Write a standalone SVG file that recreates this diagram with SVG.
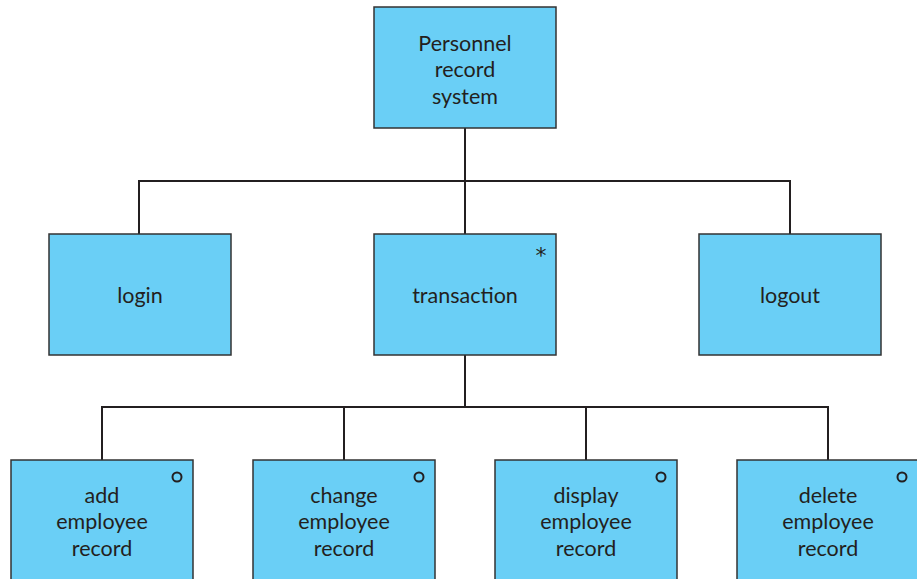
<svg xmlns="http://www.w3.org/2000/svg" width="917" height="579" viewBox="0 0 917 579">
<style>
.box{fill:#6acff6;stroke:#333;stroke-width:1.5}
.t{font-family:Lato,"Open Sans",sans-serif;font-size:21.5px;fill:#231f20;text-anchor:middle}
.c{fill:none;stroke:#231f20;stroke-width:2}
.m{fill:none;stroke:#231f20;stroke-width:2}
</style>
<rect width="917" height="579" fill="#fff"/>
<g id="connectors">
<path class="c" d="M465 128V181M139 234V181H790V234M465 181V234"/>
<path class="c" d="M465 355V407M102 460V407H828V460M344 407V460M586 407V460"/>
</g>
<g id="root"><rect class="box" x="374" y="7" width="182" height="121"/>
<text class="t" x="465" y="50.5">Personnel</text><text class="t" x="465" y="77">record</text><text class="t" x="465" y="103.5">system</text></g>
<g id="login"><rect class="box" x="49" y="234" width="182" height="121"/><text class="t" x="140" y="302.5">login</text></g>
<g id="transaction"><rect class="box" x="374" y="234" width="182" height="121"/><text class="t" x="465" y="302.5">transaction</text>
<text x="541" y="263" style="font-family:'DejaVu Sans',sans-serif;font-size:22px;fill:#231f20;text-anchor:middle">*</text></g>
<g id="logout"><rect class="box" x="699" y="234" width="182" height="121"/><text class="t" x="790" y="302.5">logout</text></g>
<g id="add"><rect class="box" x="11" y="460" width="182" height="125"/><circle class="m" cx="177" cy="477" r="4.5"/>
<text class="t" x="102" y="502.5">add</text><text class="t" x="102" y="529">employee</text><text class="t" x="102" y="555.5">record</text></g>
<g id="change"><rect class="box" x="253" y="460" width="182" height="125"/><circle class="m" cx="419" cy="477" r="4.5"/>
<text class="t" x="344" y="502.5">change</text><text class="t" x="344" y="529">employee</text><text class="t" x="344" y="555.5">record</text></g>
<g id="display"><rect class="box" x="495" y="460" width="182" height="125"/><circle class="m" cx="661" cy="477" r="4.5"/>
<text class="t" x="586" y="502.5">display</text><text class="t" x="586" y="529">employee</text><text class="t" x="586" y="555.5">record</text></g>
<g id="delete"><rect class="box" x="737" y="460" width="182" height="125"/><circle class="m" cx="902" cy="477" r="4.5"/>
<text class="t" x="828" y="502.5">delete</text><text class="t" x="828" y="529">employee</text><text class="t" x="828" y="555.5">record</text></g>
</svg>
